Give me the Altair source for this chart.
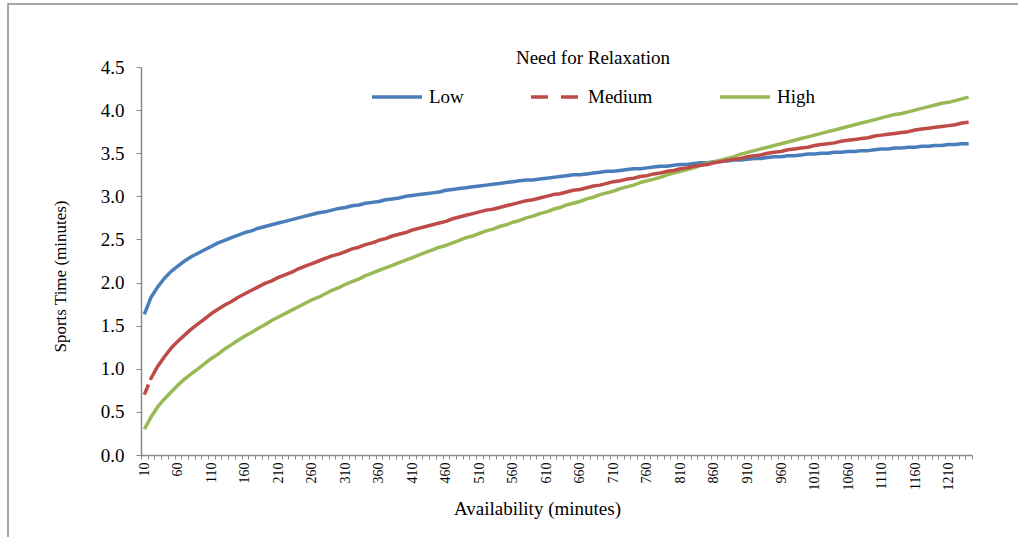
import altair as alt
import pandas as pd

# Availability categories (minutes), one every 10 minutes
availability = list(range(10, 1250, 10))

# Predicted sports time (minutes) for each level of need for relaxation
low = [
    1.63, 1.83, 1.95, 2.05, 2.13, 2.19, 2.25, 2.30, 2.34, 2.38,
    2.42, 2.46, 2.49, 2.52, 2.55, 2.58, 2.60, 2.63, 2.65, 2.67,
    2.69, 2.71, 2.73, 2.75, 2.77, 2.79, 2.81, 2.82, 2.84, 2.86,
    2.87, 2.89, 2.90, 2.92, 2.93, 2.94, 2.96, 2.97, 2.98, 3.00,
    3.01, 3.02, 3.03, 3.04, 3.05, 3.07, 3.08, 3.09, 3.10, 3.11,
    3.12, 3.13, 3.14, 3.15, 3.16, 3.17, 3.18, 3.19, 3.19, 3.20,
    3.21, 3.22, 3.23, 3.24, 3.25, 3.25, 3.26, 3.27, 3.28, 3.29,
    3.29, 3.30, 3.31, 3.32, 3.32, 3.33, 3.34, 3.35, 3.35, 3.36,
    3.37, 3.37, 3.38, 3.39, 3.39, 3.40, 3.41, 3.41, 3.42, 3.42,
    3.43, 3.44, 3.44, 3.45, 3.46, 3.46, 3.47, 3.47, 3.48, 3.49,
    3.49, 3.50, 3.50, 3.51, 3.51, 3.52, 3.52, 3.53, 3.53, 3.54,
    3.55, 3.55, 3.56, 3.56, 3.57, 3.57, 3.58, 3.58, 3.59, 3.59,
    3.60, 3.60, 3.61, 3.61,
]
medium = [
    0.70, 0.89, 1.03, 1.14, 1.24, 1.32, 1.39, 1.46, 1.52, 1.58,
    1.64, 1.69, 1.74, 1.78, 1.83, 1.87, 1.91, 1.95, 1.99, 2.02,
    2.06, 2.09, 2.12, 2.16, 2.19, 2.22, 2.25, 2.28, 2.31, 2.33,
    2.36, 2.39, 2.41, 2.44, 2.46, 2.49, 2.51, 2.54, 2.56, 2.58,
    2.61, 2.63, 2.65, 2.67, 2.69, 2.71, 2.74, 2.76, 2.78, 2.80,
    2.82, 2.84, 2.85, 2.87, 2.89, 2.91, 2.93, 2.95, 2.96, 2.98,
    3.00, 3.02, 3.03, 3.05, 3.07, 3.08, 3.10, 3.12, 3.13, 3.15,
    3.17, 3.18, 3.20, 3.21, 3.23, 3.24, 3.26, 3.27, 3.29, 3.30,
    3.32, 3.33, 3.35, 3.36, 3.37, 3.39, 3.40, 3.42, 3.43, 3.44,
    3.46, 3.47, 3.48, 3.50, 3.51, 3.52, 3.54, 3.55, 3.56, 3.57,
    3.59, 3.60, 3.61, 3.62, 3.64, 3.65, 3.66, 3.67, 3.68, 3.70,
    3.71, 3.72, 3.73, 3.74, 3.75, 3.77, 3.78, 3.79, 3.80, 3.81,
    3.82, 3.83, 3.85, 3.86,
]
high = [
    0.30, 0.44, 0.56, 0.65, 0.73, 0.81, 0.88, 0.94, 1.00, 1.06,
    1.12, 1.17, 1.23, 1.28, 1.33, 1.38, 1.42, 1.47, 1.51, 1.56,
    1.60, 1.64, 1.68, 1.72, 1.76, 1.80, 1.83, 1.87, 1.91, 1.94,
    1.98, 2.01, 2.04, 2.08, 2.11, 2.14, 2.17, 2.20, 2.23, 2.26,
    2.29, 2.32, 2.35, 2.38, 2.41, 2.43, 2.46, 2.49, 2.52, 2.54,
    2.57, 2.60, 2.62, 2.65, 2.67, 2.70, 2.72, 2.75, 2.77, 2.80,
    2.82, 2.85, 2.87, 2.90, 2.92, 2.94, 2.97, 2.99, 3.02, 3.04,
    3.06, 3.09, 3.11, 3.13, 3.16, 3.18, 3.20, 3.22, 3.25, 3.27,
    3.29, 3.31, 3.33, 3.36, 3.38, 3.40, 3.42, 3.44, 3.46, 3.49,
    3.51, 3.53, 3.55, 3.57, 3.59, 3.61, 3.63, 3.65, 3.67, 3.69,
    3.71, 3.73, 3.75, 3.77, 3.79, 3.81, 3.83, 3.85, 3.87, 3.89,
    3.91, 3.93, 3.95, 3.96, 3.98, 4.00, 4.02, 4.04, 4.06, 4.08,
    4.09, 4.11, 4.13, 4.15,
]

levels = ["Low", "Medium", "High"]
colors = ["#4A7EBB", "#BE4B48", "#98B954"]
y_ticks = [0.0, 0.5, 1.0, 1.5, 2.0, 2.5, 3.0, 3.5, 4.0, 4.5]

rows = []
for name, values in zip(levels, (low, medium, high)):
    for minutes, value in zip(availability, values):
        rows.append({"availability": minutes, "level": name, "sports_time": value})
df = pd.DataFrame(rows)

serif = "Liberation Serif"
axis_gray = "#8A8A8A"
line_width = 3.5

x_enc = alt.X(
    "availability:O",
    sort=availability,
    bandPosition=0.5,
    scale=alt.Scale(type="band", paddingInner=0, paddingOuter=0),
    axis=alt.Axis(
        title="Availability (minutes)",
        titleFont=serif, titleFontSize=19, titleFontWeight="normal", titleColor="#000000",
        titleX=396, titleY=53, titleAlign="center", titleBaseline="middle",
        labelExpr="(datum.value - 10) % 50 === 0 ? datum.label : ''",
        labelAngle=270, labelFont=serif, labelFontSize=14, labelColor="#000000",
        labelOverlap=False, labelPadding=3, labelFlush=False,
        tickBand="extent", tickSize=4, tickColor=axis_gray, tickWidth=1,
        domainColor=axis_gray, domainWidth=1.5,
    ),
)
y_enc = alt.Y(
    "sports_time:Q",
    scale=alt.Scale(domain=[0, 4.5], nice=False, zero=True),
    axis=alt.Axis(
        title="Sports Time (minutes)",
        titleFont=serif, titleFontSize=17, titleFontWeight="normal", titleColor="#000000",
        titleX=-81, titleY=209, titleAngle=270, titleAlign="center", titleBaseline="middle",
        values=y_ticks, format=".1f", grid=False,
        labelFont=serif, labelFontSize=19, labelColor="#000000", labelPadding=12,
        tickSize=5, tickColor=axis_gray, tickWidth=1,
        domainColor=axis_gray, domainWidth=1.5,
    ),
)
color_scale = alt.Scale(domain=levels, range=colors)

legend = alt.Legend(
    title="Need for Relaxation",
    orient="none", legendX=229, legendY=-18,
    direction="horizontal",
    titleFont=serif, titleFontSize=19, titleFontWeight="normal", titleColor="#000000",
    titleAnchor="middle", titlePadding=2,
    labelFont=serif, labelFontSize=19, labelColor="#000000", labelOffset=5,
    symbolType="stroke", symbolSize=2500, symbolStrokeWidth=line_width,
    columnPadding=60,
)

base = alt.Chart(df)

# Legend carrier: no rows drawn, entries come from the explicit scale domains
legend_layer = base.transform_filter("false").mark_line(
    strokeWidth=line_width, strokeCap="butt"
).encode(
    x=x_enc, y=y_enc,
    color=alt.Color("level:N", sort=levels, scale=color_scale, legend=legend),
    strokeDash=alt.StrokeDash(
        "level:N", sort=levels,
        scale=alt.Scale(domain=levels, range=[[1, 0], [17, 13], [1, 0]]),
        legend=legend,
    ),
)

# Low and High: solid lines
solid_lines = base.transform_filter("datum.level !== 'Medium'").mark_line(
    strokeWidth=line_width, strokeJoin="round", strokeCap="butt"
).encode(
    x=x_enc, y=y_enc,
    color=alt.Color("level:N", sort=levels, scale=color_scale),
)

# Medium: dashed style, whose only visible break falls on the first segment
medium_line = base.transform_filter("datum.level === 'Medium'").mark_line(
    strokeWidth=line_width, strokeJoin="round", strokeCap="butt",
    strokeDash=[11, 5, 100000, 0],
).encode(
    x=x_enc, y=y_enc,
    color=alt.Color("level:N", sort=levels, scale=color_scale),
)

# Outer border of the figure
frame = alt.Chart(pd.DataFrame({"border": [0]})).mark_rect(
    fillOpacity=0, stroke="#8C8C8C", strokeWidth=1.5
).encode(
    x=alt.value(-133), x2=alt.value(890),
    y=alt.value(-63), y2=alt.value(480),
)

chart = alt.layer(legend_layer, frame, solid_lines, medium_line).properties(
    width=831,
    height=388,
    autosize=alt.AutoSizeParams(type="none"),
    padding={"left": 141, "top": 67, "right": 46, "bottom": 82},
    background="#FFFFFF",
).configure_view(strokeOpacity=0)

chart.save("out.html", embed_options={"renderer": "svg", "actions": False})
